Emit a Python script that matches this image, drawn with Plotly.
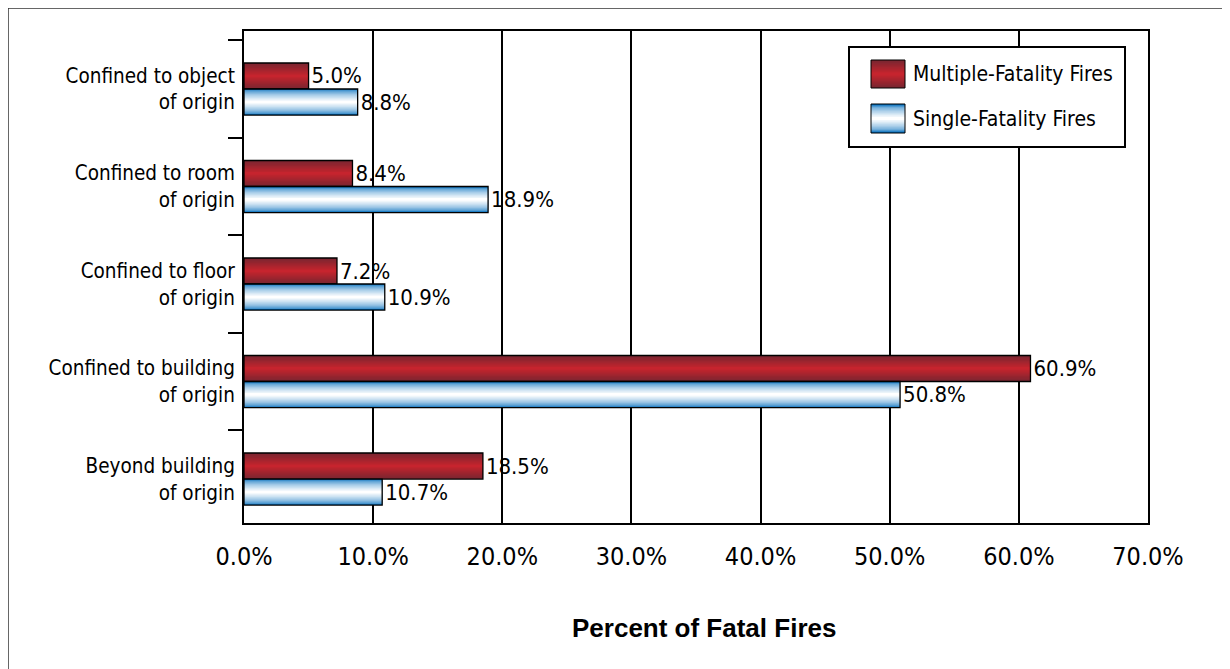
import plotly.graph_objects as go

# ---------------- data ----------------
categories = [
    "Confined to object<br>of origin",
    "Confined to room<br>of origin",
    "Confined to floor<br>of origin",
    "Confined to building<br>of origin",
    "Beyond building<br>of origin",
]
multiple_fatality = [5.0, 8.4, 7.2, 60.9, 18.5]
single_fatality = [8.8, 18.9, 10.9, 50.8, 10.7]
series_names = ["Multiple-Fatality Fires", "Single-Fatality Fires"]
x_ticks = [0, 10, 20, 30, 40, 50, 60, 70]
x_title = "Percent of Fatal Fires"

# ---------------- style ----------------
FONT = "DejaVu Sans Condensed, Liberation Sans Narrow, sans-serif"
BOLD_FONT = "Liberation Sans, Arial, sans-serif"
W, H = 1230, 669
OFF = 8  # page body margin offset of the figure
# plot area in screenshot pixels
SL, SR, ST, SB = 244, 1148, 31, 523
PL, PR, PT, PB = SL - OFF, SR - OFF, ST - OFF, SB - OFF  # in figure pixels

BAR_W = 0.267
N_LAYERS = 14

red_edge, red_center = (122, 38, 48), (198, 36, 46)
blue_edge, blue_center = (0, 108, 188), (255, 255, 255)


def mix(a, b, t):
    return "rgb(%d,%d,%d)" % tuple(round(a[i] + (b[i] - a[i]) * t) for i in range(3))


def px(x):  # screenshot x -> paper
    return (x - SL) / (SR - SL)


def py(y):  # screenshot y -> paper
    return (SB - y) / (SB - ST)


fig = go.Figure()

specs = [
    (multiple_fatality, -BAR_W, red_edge, red_center, 1.0),
    (single_fatality, 0.0, blue_edge, blue_center, 0.55),
]

for values, base_off, c_edge, c_center, gamma in specs:
    center = base_off + BAR_W / 2
    for k in range(N_LAYERS):
        frac = 1 - k / N_LAYERS
        t = (k / (N_LAYERS - 1)) ** gamma
        w = BAR_W * frac
        fig.add_trace(go.Bar(
            y=categories, x=values, orientation="h",
            width=w, offset=center - w / 2,
            marker=dict(color=mix(c_edge, c_center, t), line=dict(width=0)),
            showlegend=False, hoverinfo="skip",
        ))
    # outline + value labels
    fig.add_trace(go.Bar(
        y=categories, x=values, orientation="h",
        width=BAR_W, offset=base_off,
        marker=dict(color="rgba(0,0,0,0)", line=dict(color="black", width=1.3)),
        texttemplate="%{x:.1f}%", textposition="outside",
        textfont=dict(family=FONT, size=22, color="black"),
        cliponaxis=False, showlegend=False,
    ))

shapes = []
annotations = []

# ---------- manual legend ----------
shapes.append(dict(type="rect", xref="paper", yref="paper",
                   x0=px(849), x1=px(1125), y0=py(147), y1=py(47),
                   fillcolor="white", line=dict(color="black", width=2), layer="above"))

legend_items = [
    (series_names[0], 60, 88, red_edge, red_center, 1.0),
    (series_names[1], 104, 133, blue_edge, blue_center, 0.55),
]
for name, top, bot, c_edge, c_center, gamma in legend_items:
    mid = (top + bot) / 2
    hh = (bot - top) / 2
    n = 10
    for k in range(n):
        frac = 1 - k / n
        t = (k / (n - 1)) ** gamma
        shapes.append(dict(type="rect", xref="paper", yref="paper",
                           x0=px(871), x1=px(905),
                           y0=py(mid + hh * frac), y1=py(mid - hh * frac),
                           fillcolor=mix(c_edge, c_center, t), line=dict(width=0),
                           layer="above"))
    shapes.append(dict(type="rect", xref="paper", yref="paper",
                       x0=px(871), x1=px(905), y0=py(bot), y1=py(top),
                       fillcolor="rgba(0,0,0,0)", line=dict(color="black", width=1),
                       layer="above"))
    annotations.append(dict(xref="paper", yref="paper", x=px(911), y=py(mid),
                            xanchor="left", yanchor="middle", text=name, showarrow=False,
                            font=dict(family=FONT, size=21, color="black")))

# ---------- outer frame (figure top & left edges) ----------
shapes.append(dict(type="line", xref="paper", yref="paper",
                   x0=px(8), x1=px(1240), y0=py(8), y1=py(8),
                   line=dict(color="#333333", width=1.5)))
shapes.append(dict(type="line", xref="paper", yref="paper",
                   x0=px(8), x1=px(8), y0=py(8), y1=py(680),
                   line=dict(color="#333333", width=1.5)))

# ---------- x axis title ----------
annotations.append(dict(xref="paper", yref="paper", x=px(704), y=py(628),
                        xanchor="center", yanchor="middle", text="<b>%s</b>" % x_title,
                        showarrow=False, font=dict(family=BOLD_FONT, size=26, color="black")))

fig.update_layout(
    width=W, height=H,
    margin=dict(l=PL, r=W - PR, t=PT, b=H - PB, autoexpand=False),
    paper_bgcolor="white", plot_bgcolor="white",
    barmode="overlay",
    showlegend=False,
    shapes=shapes,
    annotations=annotations,
    xaxis=dict(
        range=[0, 70], tickvals=x_ticks,
        ticktext=["%.1f%%" % v for v in x_ticks],
        showgrid=True, gridcolor="black", gridwidth=2,
        showline=True, linecolor="black", linewidth=2, mirror=True,
        ticks="", zeroline=False,
        tickfont=dict(family=FONT, size=25, color="black"),
        ticklabelstandoff=10,
        fixedrange=True,
    ),
    yaxis=dict(
        type="category", categoryorder="array", categoryarray=categories,
        range=[4.451, -0.595],
        showgrid=False, zeroline=False,
        showline=True, linecolor="black", linewidth=2, mirror=True,
        ticks="outside", tickson="boundaries", ticklen=14, tickwidth=2, tickcolor="black",
        tickfont=dict(family=FONT, size=20.5, color="black"),
        ticklabelstandoff=3,
        fixedrange=True,
    ),
)

fig.write_html("out.html")
